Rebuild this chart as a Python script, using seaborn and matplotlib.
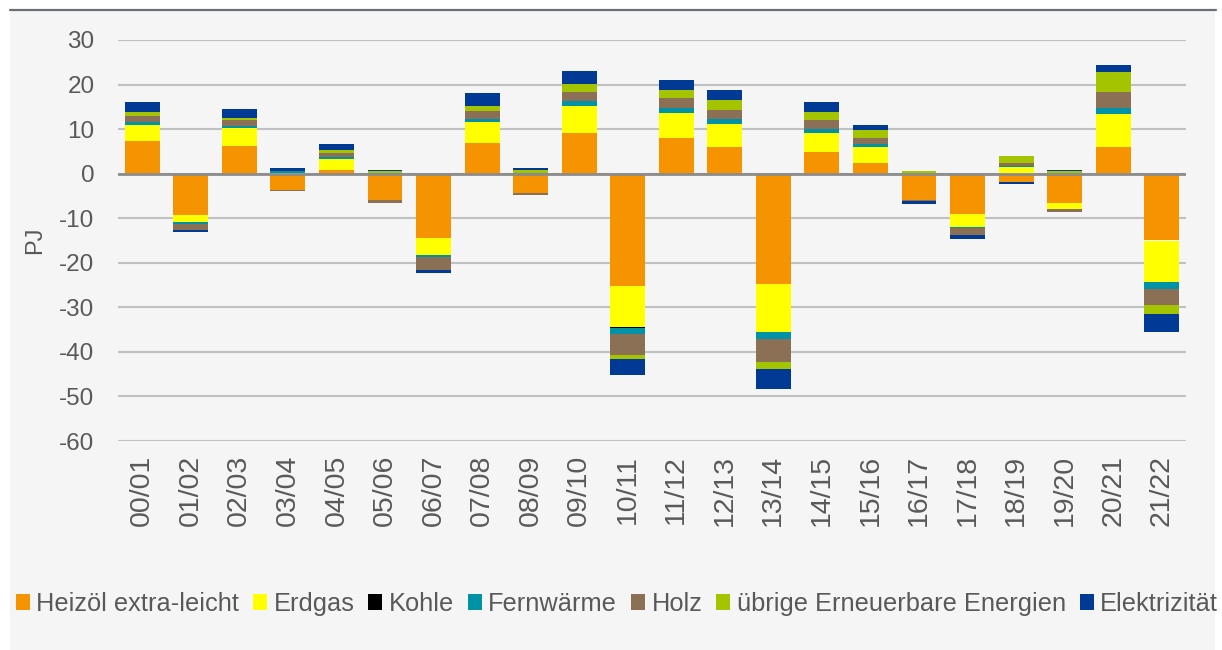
import matplotlib
matplotlib.use("Agg")
import matplotlib.pyplot as plt
from matplotlib.patches import Patch, Rectangle
from matplotlib.lines import Line2D
import numpy as np
import pandas as pd
import seaborn as sns

years = ["00/01", "01/02", "02/03", "03/04", "04/05", "05/06", "06/07", "07/08", "08/09", "09/10",
         "10/11", "11/12", "12/13", "13/14", "14/15", "15/16", "16/17", "17/18", "18/19", "19/20",
         "20/21", "21/22"]

heizoel = [7.3, -9.3, 6.3, -3.7, 0.8, -5.9, -14.4, 6.9, -4.4, 9.1, -25.1, 8.0, 5.9, -24.8, 4.9, 2.3,
           -5.9, -9.0, -1.9, -6.6, 5.9, -15.0]
erdgas = [3.6, -1.5, 3.9, 0.15, 2.6, 0.0, -3.8, 4.8, 0.0, 6.1, -9.4, 5.7, 5.3, -10.7, 4.2, 3.7,
          0.0, -2.9, 1.4, -1.3, 7.6, -9.4]
kohle = [0.0, 0.0, 0.0, 0.0, 0.0, 0.0, 0.0, 0.0, 0.0, 0.0, -0.1, 0.0, -0.4, 0.0, 0.0, -0.4,
         0.0, 0.0, 0.0, 0.0, 0.0, 0.0]
fernwaerme = [0.8, -0.4, 0.4, 0.35, 0.4, 0.2, -0.5, 0.6, 0.1, 1.0, -1.3, 1.1, 1.1, -1.7, 1.0, 0.7,
              0.0, -0.2, 0.4, 0.0, 1.3, -1.5]
holz = [1.3, -1.4, 1.4, -0.3, 0.8, -0.6, -2.9, 1.8, -0.4, 2.2, -4.7, 2.2, 2.1, -5.1, 1.9, 1.4,
        -0.3, -1.6, 0.7, -0.6, 3.6, -3.6]
uebrige = [0.8, 0.0, 0.4, 0.15, 0.7, 0.3, 0.0, 1.1, 0.7, 1.8, -1.1, 1.8, 2.2, -1.5, 1.8, 1.8,
           0.5, 0.0, 1.5, 0.5, 4.4, -2.0]
elektrizitaet = [2.2, -0.4, 2.1, 0.65, 1.4, 0.3, -0.6, 2.9, 0.4, 2.9, -3.5, 2.2, 2.2, -4.5, 2.2, 1.0,
                 -0.7, -1.0, -0.4, 0.3, 1.7, -4.0]

series_names = ["Heizöl extra-leicht", "Erdgas", "Kohle", "Fernwärme", "Holz",
                "übrige Erneuerbare Energien", "Elektrizität"]
series_values = [heizoel, erdgas, kohle, fernwaerme, holz, uebrige, elektrizitaet]
colors = ["#F59300", "#FFFF00", "#000000", "#0093A8", "#8B7056", "#A5C400", "#003A94"]

sns.set_style("white")
plt.rcParams["font.family"] = ["Liberation Sans", "DejaVu Sans"]
plt.rcParams["axes.unicode_minus"] = False

W, H = 1222, 650
fig = plt.figure(figsize=(W / 100, H / 100), dpi=100, facecolor="white")
# gray panel + top rule (behind the axes)
fig.patches.append(Rectangle((10 / W, 0), (1215 - 10) / W, 1 - 11 / H, transform=fig.transFigure,
                             facecolor="#F5F5F5", edgecolor="none", zorder=-2))
fig.lines.append(Line2D([10 / W, 1216 / W], [1 - 10 / H, 1 - 10 / H], transform=fig.transFigure,
                        color="#6B6F73", linewidth=1.6, zorder=-1))

ax = fig.add_axes([118 / W, 1 - 441 / H, (1186 - 118) / W, (441 - 40) / H])
ax.set_facecolor("none")

pos_bottom = np.zeros(len(years))
neg_bottom = np.zeros(len(years))
for name, vals, col in zip(series_names, series_values, colors):
    v = np.array(vals, dtype=float)
    pos = np.where(v > 0, v, 0.0)
    neg = np.where(v < 0, v, 0.0)
    dfp = pd.DataFrame({"Jahr": years, "PJ": pos})
    dfn = pd.DataFrame({"Jahr": years, "PJ": neg})
    sns.barplot(data=dfp, x="Jahr", y="PJ", order=years, color=col, width=0.72,
                bottom=pos_bottom.copy(), errorbar=None, ax=ax, saturation=1,
                edgecolor="none", linewidth=0, zorder=3)
    sns.barplot(data=dfn, x="Jahr", y="PJ", order=years, color=col, width=0.72,
                bottom=neg_bottom.copy(), errorbar=None, ax=ax, saturation=1,
                edgecolor="none", linewidth=0, zorder=3)
    pos_bottom += pos
    neg_bottom += neg

ax.set_xlim(-0.5, len(years) - 0.5)
ax.set_ylim(-60, 30)
ax.set_yticks(np.arange(-60, 31, 10))
ax.grid(axis="y", color="#BFC1C3", linewidth=1.5, zorder=0)
ax.grid(axis="x", visible=False)
ax.set_axisbelow(True)
ax.axhline(0, color="#8C8C8C", linewidth=2, zorder=4)
for s in ax.spines.values():
    s.set_visible(False)
ax.tick_params(axis="y", length=0, labelsize=17.5, labelcolor="#595959", pad=17)
ax.tick_params(axis="x", length=0, labelsize=20.5, labelcolor="#595959", pad=10, rotation=90)
ax.set_xlabel("")
ax.set_ylabel("PJ", fontsize=17, color="#595959", labelpad=8)
ax.yaxis.set_label_coords(-72 / (1186 - 118), (441 - 240) / (441 - 40))

handles = [Patch(facecolor=c, edgecolor="none") for c in colors]
fig.legend(handles, series_names, loc="center", bbox_to_anchor=(617 / W, 1 - 604 / H), ncol=7,
           frameon=False, fontsize=18.3, labelcolor="#595959", handlelength=0.55, handleheight=0.55,
           handletextpad=0.25, columnspacing=0.55, borderaxespad=0)

fig.savefig("out.png", dpi=100, facecolor="white")
